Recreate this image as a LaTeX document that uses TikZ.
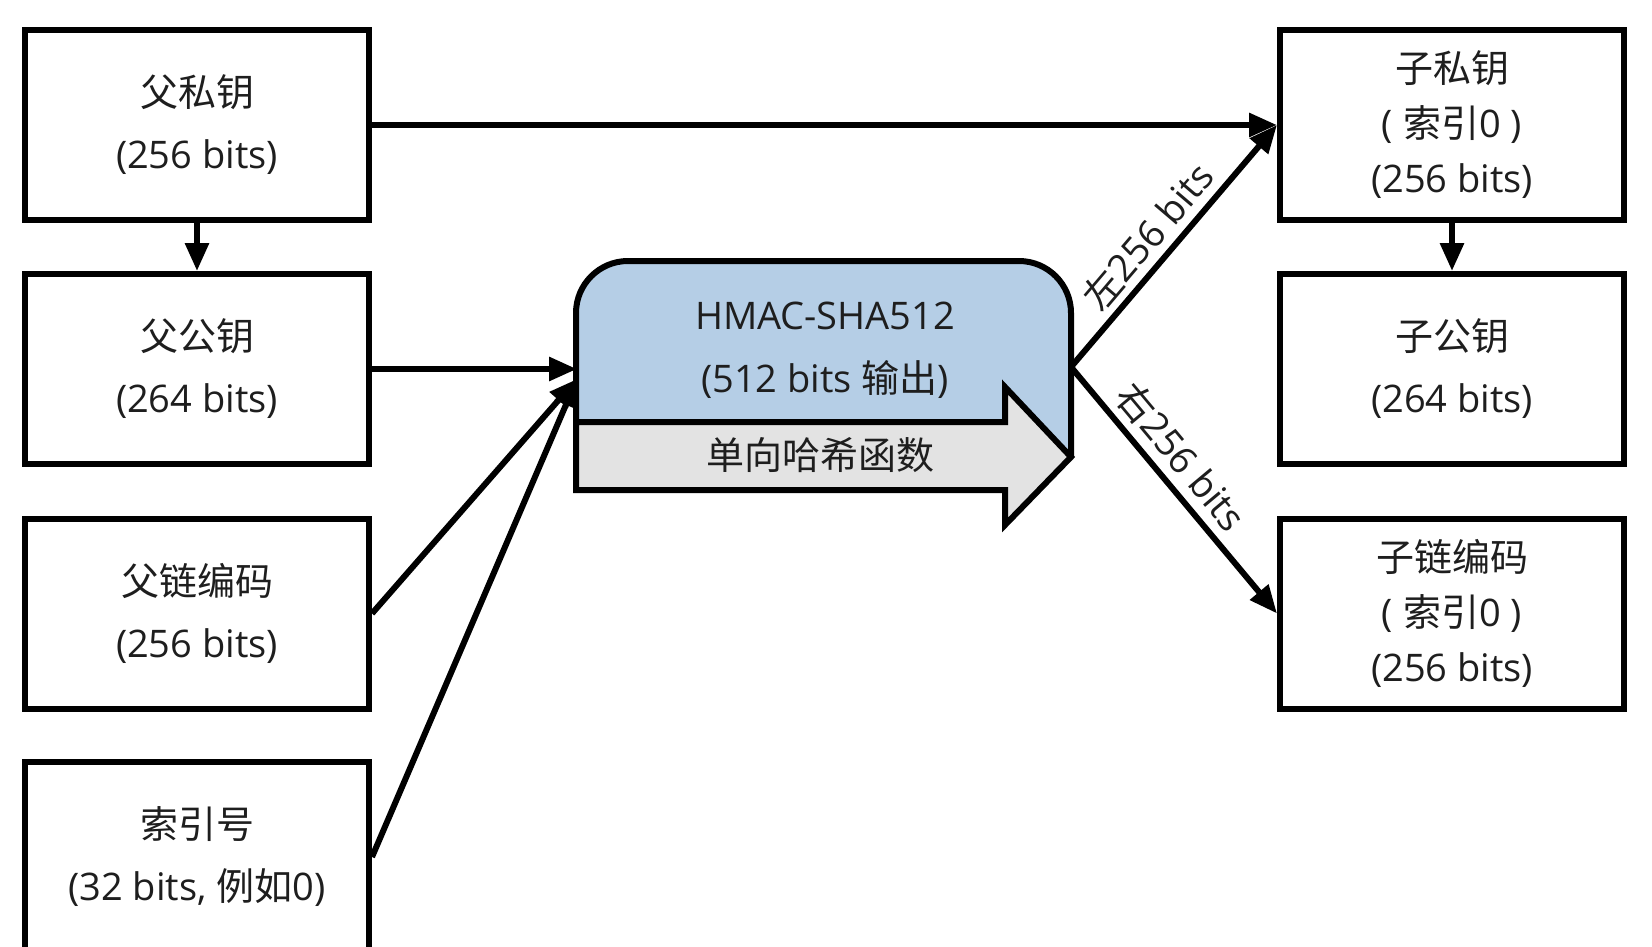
\documentclass[tikz,border=0pt]{standalone}
\usepackage{fontspec}
\setmainfont{Open Sans}
\newfontfamily\cjk{Noto Sans CJK SC}
\usetikzlibrary{arrows.meta}
\definecolor{hblue}{RGB}{181,206,230}
\definecolor{hgray}{RGB}{227,227,227}
\definecolor{ink}{RGB}{30,30,30}
\begin{document}
\begin{tikzpicture}[x=1pt,y=-1pt,
  box/.style={draw, line width=6pt, minimum width=344pt, minimum height=190pt, align=center, text=ink, font=\fontsize{38}{62}\selectfont, inner sep=0pt},
  boxthree/.style={box, font=\fontsize{38}{55}\selectfont},
  conn/.style={line width=6pt, -{Triangle[length=28pt,width=23pt]}},
  lbl/.style={font=\fontsize{38}{40}\selectfont, text=ink, sloped, above=7pt, inner sep=0pt},
  htext/.style={text=ink, font=\fontsize{38}{40}\selectfont, inner sep=0pt}
]
\useasboundingbox (0,0) rectangle (1652,946);
\clip (0,0) rectangle (1652,946);
\fill[white] (0,0) rectangle (1652,946);

% left boxes
\node[box] (pk) at (197,125) {{\cjk 父私钥}\\(256 bits)};
\node[box] (pub) at (197,369) {{\cjk 父公钥}\\(264 bits)};
\node[box] (cc) at (197,613.5) {{\cjk 父链编码}\\(256 bits)};
\node[box] (idx) at (197,857) {{\cjk 索引号}\\(32 bits, {\cjk 例如}0)};

% right boxes
\node[boxthree] (ck) at (1452,125) {{\cjk 子私钥}\\(\kern10pt{\cjk 索引}0\kern10pt)\\(256 bits)};
\node[box] (cpub) at (1452,369) {{\cjk 子公钥}\\(264 bits)};
\node[boxthree] (ccc) at (1452,613.5) {{\cjk 子链编码}\\(\kern10pt{\cjk 索引}0\kern10pt)\\(256 bits)};

% hash shape
\path[draw, line width=6pt, fill=hblue, rounded corners=52pt]
  (576,422) -- (576,261) -- (1071,261) -- (1071,457);
\draw[line width=6pt, fill=hgray]
  (576,422) -- (1005,422) -- (1005,387) -- (1071,457) -- (1005,525) -- (1005,490) -- (576,490) -- cycle;
\node[htext] (h1) at (825,316) {HMAC-SHA512};
\node[htext] (h2) at (825,379) {(512 bits {\cjk 输出})};
\node[htext] (h3) at (820,455) {{\cjk 单向哈希函数}};

\coordinate (hin) at (577,369);
\coordinate (hintwo) at (577,379);
\coordinate (hout) at (1071,367);

% connectors
\draw[conn] (pk.east) -- (ck.west);
\draw[conn] (pk.south) -- (pub.north);
\draw[conn] (ck.south) -- (cpub.north);
\draw[conn] (pub.east) -- (hin);
\draw[conn] (cc.east) -- (hintwo);
\draw[conn] (idx.east) -- (hintwo);
\draw[conn] (hout) -- node[lbl, pos=0.47] {{\cjk 左}256 bits} (ck.west);
\draw[conn] (hout) -- node[lbl, pos=0.435] {{\cjk 右}256 bits} (ccc.west);
\end{tikzpicture}
\end{document}
